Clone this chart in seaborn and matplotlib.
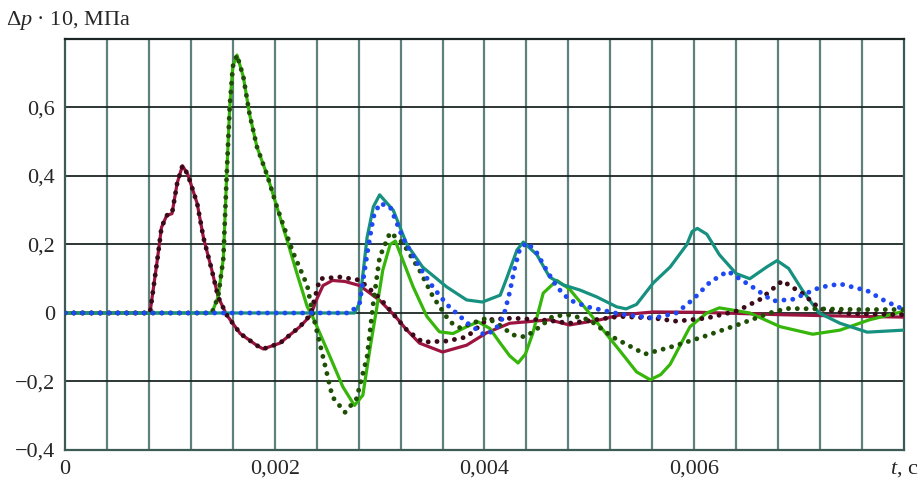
# Pressure pulse curves, dp*10 vs t
import numpy as np
import pandas as pd
import matplotlib
matplotlib.use("Agg")
import matplotlib.pyplot as plt
import seaborn as sns

# 1. Data
t_red = [0, 0.00081, 0.00088, 0.00092, 0.00097, 0.00102, 0.00107, 0.00112, 0.00117, 0.00126,
         0.00132, 0.0014, 0.00146, 0.00154, 0.00167, 0.00183, 0.00189, 0.00205, 0.00224, 0.00234,
         0.0024, 0.00246, 0.00255, 0.00267, 0.00281, 0.003, 0.00315, 0.00326, 0.00338, 0.0036,
         0.00383, 0.00402, 0.00424, 0.00462, 0.00481, 0.0051, 0.00529, 0.00561, 0.00605, 0.00682,
         0.00758, 0.008]
p_red = [0, 0, 0.155, 0.25, 0.285, 0.29, 0.38, 0.43, 0.405, 0.32,
         0.22, 0.125, 0.047, -0.005, -0.06, -0.095, -0.105, -0.088, -0.04, -0.008,
         0.04, 0.08, 0.095, 0.092, 0.08, 0.037, -0.01, -0.05, -0.088, -0.114,
         -0.094, -0.058, -0.03, -0.02, -0.035, -0.02, -0.006, 0.003, 0.002, -0.005,
         -0.01, -0.012]

t_red_dot = [0, 0.00081, 0.00088, 0.00092, 0.00097, 0.00102, 0.00107, 0.00112, 0.00117, 0.00126,
             0.00132, 0.0014, 0.00146, 0.00154, 0.00167, 0.00183, 0.00189, 0.00205, 0.00224, 0.00234,
             0.00243, 0.00262, 0.00281, 0.003, 0.00326, 0.00341, 0.00364, 0.00383, 0.00402, 0.00427,
             0.00462, 0.00481, 0.00529, 0.00561, 0.00583, 0.00612, 0.00641, 0.00663, 0.00684, 0.00704,
             0.0072, 0.00748, 0.008]
p_red_dot = [0, 0, 0.155, 0.25, 0.285, 0.29, 0.38, 0.43, 0.405, 0.32,
             0.22, 0.125, 0.047, -0.005, -0.06, -0.095, -0.105, -0.088, -0.04, -0.005,
             0.1, 0.105, 0.096, 0.044, -0.05, -0.085, -0.082, -0.07, -0.02, -0.015,
             -0.022, -0.03, -0.01, -0.015, -0.024, -0.015, 0.006, 0.04, 0.094, 0.055,
             0.012, -0.002, -0.005]

t_green = [0, 0.0014, 0.00146, 0.00151, 0.00154, 0.00157, 0.0016, 0.00164, 0.0017, 0.00176,
           0.00183, 0.00193, 0.00202, 0.00212, 0.00221, 0.00231, 0.00236, 0.00253, 0.00265, 0.00276,
           0.00284, 0.00291, 0.00297, 0.00303, 0.0031, 0.00315, 0.00322, 0.00332, 0.00345, 0.00357,
           0.0037, 0.00383, 0.00394, 0.00405, 0.00415, 0.00424, 0.00432, 0.00439, 0.00446, 0.00456,
           0.00469, 0.00481, 0.005, 0.00529, 0.00545, 0.00558, 0.00568, 0.00577, 0.00596, 0.00612,
           0.00624, 0.00653, 0.00682, 0.00713, 0.00739, 0.00767, 0.008]
p_green = [0, 0, 0.047, 0.16, 0.39, 0.6, 0.72, 0.753, 0.69, 0.58,
           0.485, 0.4, 0.31, 0.21, 0.117, 0.018, -0.01, -0.13, -0.216, -0.27,
           -0.24, -0.1, 0.01, 0.125, 0.2, 0.21, 0.155, 0.076, -0.01, -0.055,
           -0.06, -0.04, -0.026, -0.045, -0.088, -0.125, -0.146, -0.12, -0.06, 0.058,
           0.095, 0.07, 0.0, -0.11, -0.172, -0.195, -0.18, -0.15, -0.04, 0.0,
           0.015, 0.0, -0.04, -0.062, -0.05, -0.02, 0.005]

t_green_dot = [0, 0.0014, 0.00146, 0.00151, 0.00154, 0.00157, 0.0016, 0.00164, 0.0017, 0.00176,
               0.00183, 0.00193, 0.00202, 0.00217, 0.00231, 0.00236, 0.00246, 0.00255, 0.00267, 0.00278,
               0.00288, 0.00294, 0.003, 0.0031, 0.00322, 0.00338, 0.00351, 0.00367, 0.00377, 0.00388,
               0.00402, 0.00412, 0.00427, 0.00439, 0.00453, 0.00465, 0.00479, 0.005, 0.00522, 0.00553,
               0.00577, 0.00608, 0.00641, 0.00672, 0.00688, 0.0072, 0.00758, 0.008]
p_green_dot = [0, 0, 0.047, 0.16, 0.39, 0.6, 0.72, 0.753, 0.69, 0.58,
               0.485, 0.4, 0.31, 0.18, 0.08, 0.0, -0.128, -0.245, -0.29, -0.25,
               -0.128, 0.03, 0.163, 0.235, 0.205, 0.125, 0.047, -0.026, -0.044, -0.03,
               -0.015, -0.03, -0.064, -0.07, -0.04, -0.01, -0.005, -0.02, -0.07, -0.12,
               -0.1, -0.07, -0.035, 0.0, 0.013, 0.012, 0.01, 0.01]

t_teal = [0, 0.00276, 0.00281, 0.00288, 0.00294, 0.003, 0.00313, 0.00326, 0.00341, 0.00364,
          0.00383, 0.00398, 0.00415, 0.00421, 0.00431, 0.00437, 0.0045, 0.00462, 0.00475, 0.00491,
          0.00507, 0.00526, 0.00535, 0.00545, 0.00561, 0.00577, 0.00593, 0.00598, 0.00603, 0.00612,
          0.00624, 0.0064, 0.00653, 0.00669, 0.00679, 0.0069, 0.00703, 0.00719, 0.00739, 0.00765,
          0.008]
p_teal = [0, 0, 0.03, 0.22, 0.31, 0.345, 0.3, 0.2, 0.134, 0.076,
          0.038, 0.032, 0.052, 0.1, 0.184, 0.207, 0.17, 0.105, 0.082, 0.067,
          0.047, 0.018, 0.012, 0.025, 0.088, 0.134, 0.2, 0.238, 0.247, 0.23,
          0.17, 0.115, 0.1, 0.134, 0.153, 0.13, 0.067, 0.0, -0.03, -0.056,
          -0.05]

t_blue = [0, 0.00272, 0.00281, 0.00288, 0.00294, 0.003, 0.0031, 0.00322, 0.00338, 0.00351,
          0.00364, 0.00384, 0.004, 0.0041, 0.00418, 0.00424, 0.00429, 0.00434, 0.00441, 0.0045,
          0.00459, 0.00469, 0.00481, 0.00498, 0.00529, 0.00561, 0.00583, 0.00599, 0.00615, 0.00632,
          0.00656, 0.00675, 0.00694, 0.0072, 0.00739, 0.00765, 0.00782, 0.008]
p_blue = [0, 0, 0.03, 0.17, 0.28, 0.32, 0.31, 0.22, 0.134, 0.075,
          0.025, -0.03, -0.064, -0.05, -0.012, 0.06, 0.134, 0.19, 0.205, 0.175,
          0.126, 0.076, 0.038, 0.018, -0.003, -0.015, 0.0, 0.04, 0.09, 0.122,
          0.075, 0.035, 0.04, 0.075, 0.085, 0.065, 0.035, 0.01]

x_ticks = [0, 0.002, 0.004, 0.006, 0.008]
x_labels = ["0", "0,002", "0,004", "0,006", "$t$, с"]
y_ticks = [-0.4, -0.2, 0, 0.2, 0.4, 0.6]
y_labels = ["\u22120,4", "\u22120,2", "0", "0,2", "0,4", "0,6"]

# 2. Style
sns.set_style("white")
plt.rcParams["font.family"] = ["Liberation Serif", "DejaVu Serif"]
plt.rcParams["mathtext.fontset"] = "custom"
plt.rcParams["mathtext.rm"] = "Liberation Serif"
plt.rcParams["mathtext.it"] = "Liberation Serif:italic"

fig = plt.figure(figsize=(9.21, 4.86), dpi=100)
ax = fig.add_axes([0.0706, 0.0741, 0.9109, 0.8457])

# grid
for xv in np.arange(0.0004, 0.008, 0.0004):
    ax.axvline(xv, color="#5f817b", lw=1.6, zorder=1)
for yv in [-0.2, 0, 0.2, 0.4, 0.6]:
    ax.axhline(yv, color="#1c2624", lw=1.3, zorder=1)

# 3. Curves
def draw(t, p, color, dotted=False):
    df = pd.DataFrame({"t": t, "p": p})
    if dotted:
        sns.lineplot(data=df, x="t", y="p", ax=ax, color=color, lw=3.5,
                     sort=False, zorder=4)
        l = ax.lines[-1]
        l.set_linestyle((0, (0.01, 1.8)))
        l.set_dash_capstyle("round")
    else:
        sns.lineplot(data=df, x="t", y="p", ax=ax, color=color, lw=2.3,
                     sort=False, zorder=3)

draw(t_red, p_red, "#9c1540")
draw(t_green, p_green, "#36b50a")
draw(t_teal, p_teal, "#16907f")
draw(t_red_dot, p_red_dot, "#3b0a18", dotted=True)
draw(t_green_dot, p_green_dot, "#1f4f05", dotted=True)
draw(t_blue, p_blue, "#1f48f5", dotted=True)

# 4. Axes
ax.set_xlim(0, 0.008)
ax.set_ylim(-0.4, 0.8)
ax.set_xticks(x_ticks)
ax.set_xticklabels(x_labels, fontsize=16)
ax.set_yticks(y_ticks)
ax.set_yticklabels(y_labels, fontsize=16)
ax.tick_params(length=0, pad=7)
ax.set_xlabel("")
ax.set_ylabel("")
for s in ax.spines.values():
    s.set_color("#3d5a55")
    s.set_linewidth(1.6)
ax.spines["top"].set_color("#1c2624")

fig.text(0.006, 0.957, "\u0394$p$ \u00b7 10, МПа", fontsize=16, ha="left", va="center")

plt.savefig("out.png", dpi=100)
plt.close()
